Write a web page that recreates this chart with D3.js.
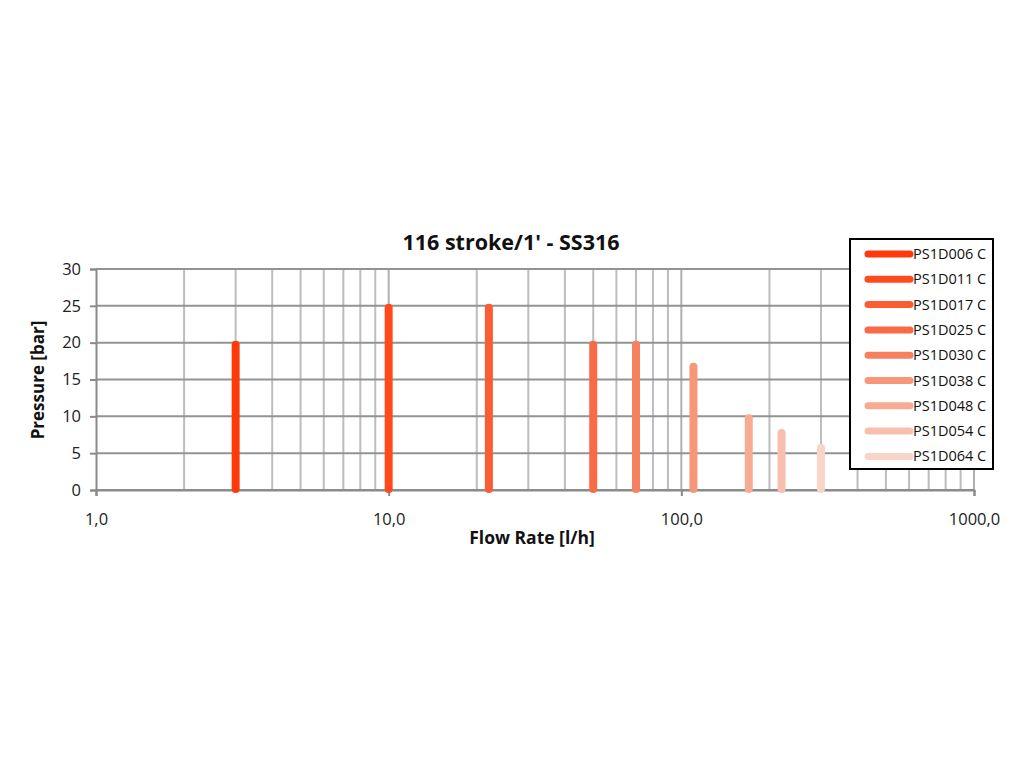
<!DOCTYPE html>
<html><head><meta charset="utf-8">
<script src="https://cdn.jsdelivr.net/npm/d3@7"></script>
<style>body{margin:0;background:#fff;} svg{display:block;}</style>
</head><body>
<svg id="c" width="1024" height="768"></svg>
<script>
const series = ["PS1D006 C","PS1D011 C","PS1D017 C","PS1D025 C","PS1D030 C","PS1D038 C","PS1D048 C","PS1D054 C","PS1D064 C"];
const flowRates = [3, 10, 22, 50, 70, 110, 170, 220, 300];
const pressures = [20, 25, 25, 20, 20, 17, 10, 8, 6];
const colors = ["#FF3A0A","#FF4B1C","#FB5C32","#F96A47","#F7805F","#F79678","#F8AA92","#F8BFAE","#F9D5C8"];
const yTicks = [0,5,10,15,20,25,30];
const xTicks = [1,10,100,1000];
const xTickLabels = ["1,0","10,0","100,0","1000,0"];

const svg = d3.select("#c");
const font = "'Open Sans', sans-serif";
const x = d3.scaleLog().domain([1,1000]).range([96,974]);
const y = d3.scaleLinear().domain([0,30]).range([490,269]);

// minor vertical grid
const minor = [];
for (let d=1; d<1000; d*=10) for (let k=2;k<=9;k++) minor.push(d*k);
svg.append("g").selectAll("line").data(minor).join("line")
  .attr("x1",d=>x(d)).attr("x2",d=>x(d)).attr("y1",y(0)).attr("y2",y(30))
  .attr("stroke","#bdbdbd").attr("stroke-width",2);
svg.append("g").selectAll("line").data(xTicks.slice(1)).join("line")
  .attr("x1",d=>x(d)).attr("x2",d=>x(d)).attr("y1",y(0)).attr("y2",y(30))
  .attr("stroke","#b0b0b0").attr("stroke-width",2);
// horizontal grid
svg.append("g").selectAll("line").data(yTicks).join("line")
  .attr("x1",x(1)).attr("x2",x(1000)).attr("y1",d=>y(d)).attr("y2",d=>y(d))
  .attr("stroke","#939393").attr("stroke-width",2);

// y axis
const ya = svg.append("g").attr("transform",`translate(${x(1)},0)`)
  .call(d3.axisLeft(y).tickValues(yTicks).tickSize(6).tickPadding(9));
ya.select(".domain").attr("stroke","#8a8a8a").attr("stroke-width",2);
ya.selectAll(".tick line").attr("stroke","#8a8a8a").attr("stroke-width",2);
ya.selectAll("text").attr("font-family",font).attr("font-size",16.5).attr("fill","#222");

// x axis
const xa = svg.append("g").attr("transform",`translate(0,${y(0)})`)
  .call(d3.axisBottom(x).tickValues(xTicks).tickFormat((d,i)=>xTickLabels[i]).tickSize(6).tickPadding(17));
xa.select(".domain").attr("stroke","#8a8a8a").attr("stroke-width",2);
xa.selectAll(".tick line").attr("stroke","#8a8a8a").attr("stroke-width",2);
xa.selectAll("text").attr("font-family",font).attr("font-size",16.5).attr("fill","#222");

// bars (vertical lines)
svg.append("g").selectAll("line").data(series).join("line")
  .attr("x1",(d,i)=>x(flowRates[i])).attr("x2",(d,i)=>x(flowRates[i]))
  .attr("y1",y(0)-1).attr("y2",(d,i)=>y(pressures[i])+2)
  .attr("stroke",(d,i)=>colors[i]).attr("stroke-width",8).attr("stroke-linecap","round");

// title & labels
svg.append("text").attr("x",511).attr("y",250).attr("text-anchor","middle")
  .attr("font-family",font).attr("font-weight","bold").attr("font-size",21.5).attr("fill","#111")
  .text("116 stroke/1' - SS316");
svg.append("text").attr("x",532).attr("y",544).attr("text-anchor","middle")
  .attr("font-family",font).attr("font-weight","bold").attr("font-size",17.5).attr("fill","#111")
  .text("Flow Rate [l/h]");
svg.append("text").attr("transform","translate(44,380) rotate(-90)").attr("text-anchor","middle")
  .attr("font-family",font).attr("font-weight","bold").attr("font-size",17).attr("fill","#111")
  .text("Pressure [bar]");

// legend
const lg = svg.append("g");
lg.append("rect").attr("x",850).attr("y",239).attr("width",143).attr("height",230)
  .attr("fill","#fff").attr("stroke","#000").attr("stroke-width",2);
const row = lg.selectAll("g").data(series).join("g")
  .attr("transform",(d,i)=>`translate(0,${254+i*25.3})`);
row.append("line").attr("x1",868).attr("x2",910).attr("y1",0).attr("y2",0)
  .attr("stroke",(d,i)=>colors[i]).attr("stroke-width",7).attr("stroke-linecap","round");
row.append("text").attr("x",913).attr("y",5).attr("font-family",font).attr("font-size",14.5)
  .attr("fill","#111").text(d=>d);
</script>
</body></html>
